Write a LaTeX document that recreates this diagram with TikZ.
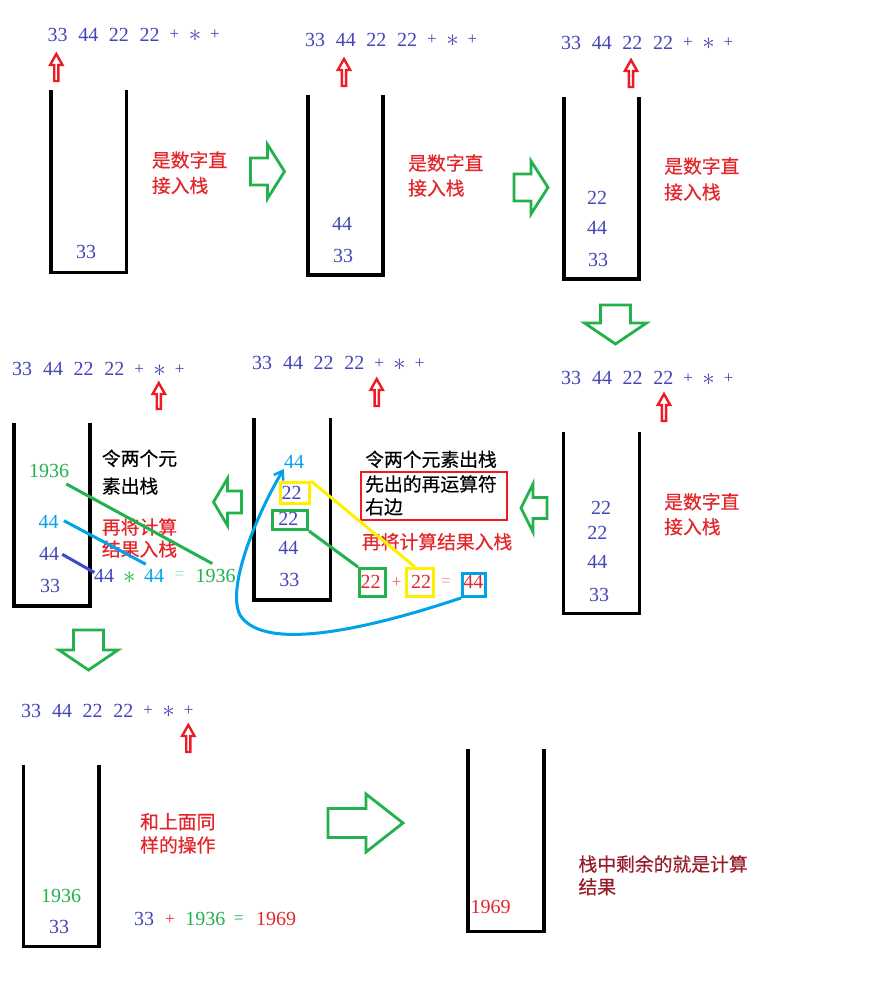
\documentclass[tikz,border=0pt]{standalone}
\usepackage{fontspec}
\setmainfont{Liberation Serif}
\newfontfamily\cjk[FakeBold=0.4]{Noto Sans CJK SC}
\usetikzlibrary{arrows.meta,calc}
\definecolor{seqblue}{RGB}{70,70,185}
\definecolor{txtred}{RGB}{228,38,42}
\definecolor{pgreen}{RGB}{34,177,76}
\definecolor{pcyan}{RGB}{0,162,232}
\definecolor{pyellow}{RGB}{255,240,0}
\definecolor{pnavy}{RGB}{63,72,204}
\definecolor{pred}{RGB}{237,28,36}
\definecolor{maroon}{RGB}{150,28,40}
\definecolor{lightcyan}{RGB}{150,215,200}
\definecolor{lightred}{RGB}{240,150,150}
\tikzset{
  numtxt/.style={inner sep=0pt, font=\fontsize{20}{20}\selectfont},
  seqtxt/.style={numtxt, text=seqblue},
  seqoptxt/.style={inner sep=0pt, text=seqblue, font=\fontsize{17}{17}\selectfont},
  astxt/.style={inner sep=0pt, font=\fontsize{25}{25}\selectfont},
  optxt/.style={inner sep=0pt, font=\fontsize{17}{17}\selectfont},
  cjktxt/.style={inner sep=0pt, anchor=west, font=\cjk\fontsize{18.8}{18.8}\selectfont},
  wallline/.style={line width=3.3pt, line join=miter},
  redarr/.style={draw=pred, line width=2.4pt, line join=miter},
  greenarr/.style={draw=pgreen, line width=2.8pt, line join=miter},
  hlboxed/.style={line width=2.6pt, inner sep=0pt},
  linkline/.style={line width=3pt},
}
\newcommand\rpnseq[3]{%
  \node[seqtxt] (#1a) at (#2,#3) {33};
  \node[seqtxt] (#1b) at (#2+30.8,#3) {44};
  \node[seqtxt] (#1c) at (#2+61.3,#3) {22};
  \node[seqtxt] (#1d) at (#2+92.2,#3) {22};
  \node[seqoptxt] (#1e) at (#2+117,#3) {+};
  \node[astxt, text=seqblue] (#1f) at (#2+137.5,#3+1) {$\ast$};
  \node[seqoptxt] (#1g) at (#2+157.5,#3) {+};
}
\newcommand\redup[3]{%
  \draw[redarr] (#1,#2+2) -- (#1+6.2,#2+13) -- (#1+2.1,#2+13) -- (#1+2.1,#3-1)
    -- (#1-2.1,#3-1) -- (#1-2.1,#2+13) -- (#1-6.2,#2+13) -- cycle;
}
\newcommand\garrow[7]{%
  \begin{scope}[shift={(#1,#2)}, rotate=#3]
    \draw[greenarr] (-#4/2,-#6/2) -- (#4/2-#7,-#6/2) -- (#4/2-#7,-#5/2) -- (#4/2,0)
      -- (#4/2-#7,#5/2) -- (#4/2-#7,#6/2) -- (-#4/2,#6/2) -- cycle;
  \end{scope}}
\newcommand\stk[4]{\draw[wallline] (#1,#3) -- (#1,#4) -- (#2,#4) -- (#2,#3);}
\begin{document}
\begin{tikzpicture}[x=1pt,y=-1pt]
\fill[white] (0,0) rectangle (872,984);
\useasboundingbox (0,0) rectangle (872,984);

% ---------- sequences and pointer arrows ----------
\rpnseq{sa}{57.5}{35}
\rpnseq{sb}{315}{40}
\rpnseq{sc}{571}{43}
\rpnseq{sd}{571.2}{378.3}
\rpnseq{se}{262.2}{363.3}
\rpnseq{sf}{22.2}{369.3}
\rpnseq{sg}{31.2}{710.7}
\redup{56.3}{52}{82}
\redup{344}{57}{87}
\redup{631}{58}{88}
\redup{664}{392}{422}
\redup{376.7}{377}{407}
\redup{158.8}{381}{410}
\redup{188.3}{723}{753}

% ---------- stacks ----------
\stk{51}{126.5}{90}{272.3}
\stk{308}{383}{95}{275}
\stk{564}{639}{97}{279}
\stk{563.5}{639.5}{432}{613.5}
\stk{254}{330.7}{418}{600}
\stk{14}{90}{423}{606}
\stk{23.3}{99}{765}{946.5}
\stk{468}{544}{749}{931.7}

% ---------- green flow arrows ----------
\garrow{267.5}{171.5}{0}{34}{54}{27}{17}
\garrow{531}{187.5}{0}{34}{53}{27}{17}
\garrow{615.5}{324.5}{-90}{39}{62}{30}{21}
\garrow{534}{508}{180}{26}{48}{21}{12}
\garrow{227.5}{502}{180}{28}{47}{22}{14}
\garrow{88.5}{650}{-90}{40}{59}{30}{20}
\garrow{365.5}{823}{0}{75}{58}{29}{37}

% ---------- stack 1 ----------
\node[seqtxt] (a1) at (86,252) {33};
\node[cjktxt, text=txtred] (la1) at (151.7,160) {是数字直};
\node[cjktxt, text=txtred] (la2) at (151.7,185.5) {接入栈};

% ---------- stack 2 ----------
\node[seqtxt] (b1) at (342,224) {44};
\node[seqtxt] (b2) at (343,256) {33};
\node[cjktxt, text=txtred] (lb1) at (408,163) {是数字直};
\node[cjktxt, text=txtred] (lb2) at (408,188) {接入栈};

% ---------- stack 3 ----------
\node[seqtxt] (c1) at (597,198) {22};
\node[seqtxt] (c2) at (597,228) {44};
\node[seqtxt] (c3) at (598,260) {33};
\node[cjktxt, text=txtred] (lc1) at (664,166) {是数字直};
\node[cjktxt, text=txtred] (lc2) at (664,192) {接入栈};

% ---------- stack 4 ----------
\node[seqtxt] (d1) at (601,508) {22};
\node[seqtxt] (d2) at (597.3,533.3) {22};
\node[seqtxt] (d3) at (597.3,562.3) {44};
\node[seqtxt] (d4) at (599,595) {33};
\node[cjktxt, text=txtred] (ld1) at (664,501.7) {是数字直};
\node[cjktxt, text=txtred] (ld2) at (664,526.7) {接入栈};

% ---------- stack 5 ----------
\node[numtxt, text=pcyan] (e1) at (294,462.3) {44};
\node[seqtxt] (e2) at (291.7,492.7) {22};
\node[seqtxt] (e3) at (288.3,519) {22};
\node[seqtxt] (e4) at (288.3,548.3) {44};
\node[seqtxt] (e5) at (289.3,580) {33};
\node[hlboxed, draw=pyellow, minimum width=29.4, minimum height=21.4] (ybox) at (295,493) {};
\node[hlboxed, draw=pgreen, minimum width=35.4, minimum height=19.4] (gbox) at (290,520) {};
\node[cjktxt] (le1) at (365,459.3) {令两个元素出栈};
\node[cjktxt] (le2) at (365,484) {先出的再运算符};
\node[cjktxt] (le3) at (365,506.7) {右边};
\node[hlboxed, draw=pred, minimum width=146, minimum height=48, line width=2.5pt] (rbox) at (434.2,495.9) {};
\node[cjktxt, text=txtred] (le4) at (361.7,541.7) {再将计算结果入栈};
\node[numtxt, text=txtred] (x1) at (370.7,582.3) {22};
\node[optxt, text=txtred!75] (x2) at (396.7,582.3) {+};
\node[numtxt, text=txtred] (x3) at (421,582.3) {22};
\node[optxt, text=lightred] (x4) at (446,582.3) {=};
\node[numtxt, text=txtred] (x5) at (473.3,582.3) {44};
\node[hlboxed, draw=pgreen, minimum width=26.4, minimum height=28.4] (gbox2) at (372.5,582.5) {};
\node[hlboxed, draw=pyellow, minimum width=27.4, minimum height=28.4] (ybox2) at (420,582.5) {};
\node[hlboxed, draw=pcyan, minimum width=23.4, minimum height=23.4] (cbox) at (474,585) {};
\draw[linkline, pyellow] (ybox.north east) -- ($(ybox2.north)+(-5,0)$);
\draw[linkline, pgreen] (gbox.south east) -- (gbox2.north west);
\draw[linkline, pcyan, -{Straight Barb[length=8pt,width=11pt,line width=2.5pt]}]
  (cbox.south west) .. controls (380,625) and (265,655) .. (240,615)
  .. controls (225,585) and (262,505) .. (e1.south west);

% ---------- stack 6 ----------
\node[numtxt, text=pgreen] (f1) at (49,471) {1936};
\node[numtxt, text=pcyan] (f2) at (48.7,521.7) {44};
\node[seqtxt] (f3) at (49,554.3) {44};
\node[seqtxt] (f4) at (50,586) {33};
\node[cjktxt] (lf1) at (101.7,458.3) {令两个元};
\node[cjktxt] (lf2) at (101.7,486) {素出栈};
\node[cjktxt, text=txtred] (lf3) at (101.7,527) {再将计算};
\node[cjktxt, text=txtred] (lf4) at (101.7,549) {结果入栈};
\node[seqtxt] (y1) at (104,575.5) {44};
\node[astxt, text=pgreen] (y2) at (129.3,577.5) {$\ast$};
\node[numtxt, text=pcyan] (y3) at (154,575.5) {44};
\node[optxt, text=lightcyan] (y4) at (179.5,575.5) {=};
\node[numtxt, text=pgreen] (y5) at (215.5,575.5) {1936};
\draw[linkline, pgreen] ($(f1.south east)+(-3,6)$) -- ($(y5.north west)+(17,-5)$);
\draw[linkline, pcyan] ($(f2.east)+(5,-1)$) -- ($(y3.north west)+(2,-4.5)$);
\draw[linkline, pnavy] ($(f3.east)+(3,0)$) -- ($(y1.west)+(0.5,-3)$);

% ---------- stack 7 ----------
\node[numtxt, text=pgreen] (g1) at (61,895.7) {1936};
\node[seqtxt] (g2) at (59,926.7) {33};
\node[cjktxt, text=txtred] (lg1) at (140,821.7) {和上面同};
\node[cjktxt, text=txtred] (lg2) at (140,845) {样的操作};
\node[seqtxt] (z1) at (144,919.3) {33};
\node[optxt, text=txtred] (z2) at (170,919.3) {+};
\node[numtxt, text=pgreen] (z3) at (205.3,919.3) {1936};
\node[optxt, text=pgreen] (z4) at (239,919.3) {=};
\node[numtxt, text=txtred] (z5) at (276,919.3) {1969};

% ---------- stack 8 ----------
\node[numtxt, text=txtred] (h1) at (490.5,907.3) {1969};
\node[cjktxt, text=maroon] (lh1) at (578.3,864) {栈中剩余的就是计算};
\node[cjktxt, text=maroon] (lh2) at (578.3,886.7) {结果};
\end{tikzpicture}
\end{document}
